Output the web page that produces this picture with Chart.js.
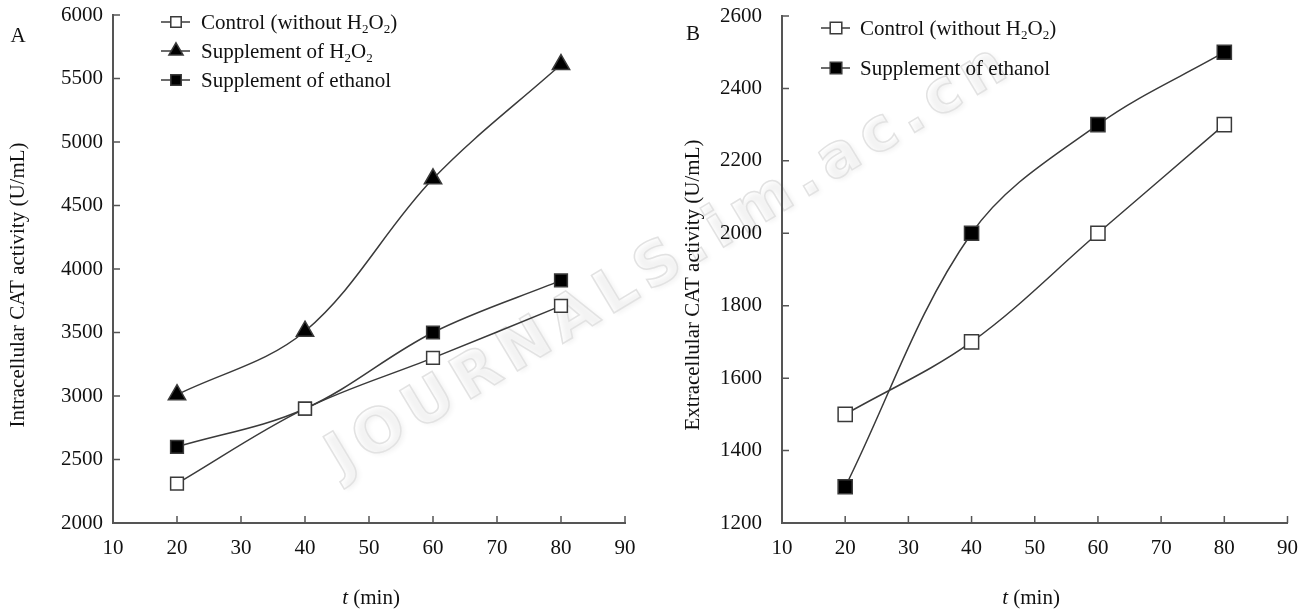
<!DOCTYPE html>
<html>
<head>
<meta charset="utf-8">
<title>CAT activity</title>
<script src="https://cdn.jsdelivr.net/npm/chart.js@4.4.1/dist/chart.umd.min.js"></script>
<style>
  html, body { margin: 0; padding: 0; background: #fff; overflow: hidden; }
  #wrap { position: relative; width: 1299px; height: 611px; background: #fff; }
  canvas { position: absolute; top: 0; }
  #chartA { left: 0; }
  #chartB { left: 650px; }
  .stamp {
    position: absolute; left: 668px; top: 256px;
    transform: translate(-50%, -50%) rotate(-31deg);
    font: bold 60px "DejaVu Sans", sans-serif; letter-spacing: 8px;
    color: rgba(255,255,255,0); -webkit-text-stroke: 1.5px #e2e2e2;
    text-shadow: 2px 3px 5px rgba(0,0,0,0.05);
    white-space: nowrap;
  }
</style>
</head>
<body>
<div id="wrap">
  <div class="stamp">JOURNALS.im.ac.cn</div>
  <canvas id="chartA" width="650" height="611"></canvas>
  <canvas id="chartB" width="649" height="611"></canvas>
</div>
<script>
// sampling times (min) and axis ticks
const times = [20, 40, 60, 80];
const timeTicks = [10, 20, 30, 40, 50, 60, 70, 80, 90];
const intraTicks = [2000, 2500, 3000, 3500, 4000, 4500, 5000, 5500, 6000];
const extraTicks = [1200, 1400, 1600, 1800, 2000, 2200, 2400, 2600];

// intracellular CAT activity (U/mL)
const intraControl = [2310, 2900, 3300, 3710];
const intraH2O2 = [3010, 3510, 4710, 5610];
const intraEthanol = [2600, 2900, 3500, 3910];

// extracellular CAT activity (U/mL)
const extraControl = [1500, 1700, 2000, 2300];
const extraEthanol = [1300, 2000, 2300, 2500];

const SERIF = '"Liberation Serif", "Times New Roman", serif';
const FS = 21;
const INK = '#111';
const LINE = '#3a3a3a';

Chart.defaults.font.family = SERIF;
Chart.defaults.font.size = FS;
Chart.defaults.color = INK;

function points(vals) {
  return times.map((t, i) => ({ x: t, y: vals[i] }));
}

function series(label, vals, style, fill, radius) {
  return {
    label: label,
    data: points(vals),
    borderColor: LINE,
    borderWidth: 1.5,
    tension: 0.35,
    pointStyle: style,
    pointRadius: radius,
    pointHoverRadius: radius,
    pointBackgroundColor: fill,
    pointBorderColor: LINE,
    pointBorderWidth: 1.5
  };
}

// text with "_2" style subscripts
function drawRich(ctx, text, x, y, size) {
  const parts = text.split(/(_\d)/);
  const base = y + size * 0.33;
  ctx.textAlign = 'left';
  ctx.textBaseline = 'alphabetic';
  parts.forEach(p => {
    if (!p) return;
    if (p[0] === '_') {
      ctx.font = (size * 0.62) + 'px ' + SERIF;
      ctx.fillText(p[1], x, base + size * 0.2);
      x += ctx.measureText(p[1]).width;
    } else {
      ctx.font = size + 'px ' + SERIF;
      ctx.fillText(p, x, base);
      x += ctx.measureText(p).width;
    }
  });
}

// inward tick marks on both axes
const innerTicks = {
  id: 'innerTicks',
  beforeDatasetsDraw(chart) {
    const ctx = chart.ctx;
    const a = chart.chartArea;
    const len = 7;
    ctx.save();
    ctx.strokeStyle = '#555';
    ctx.lineWidth = 1.5;
    ctx.beginPath();
    chart.scales.x.ticks.forEach(t => {
      const px = chart.scales.x.getPixelForValue(t.value);
      ctx.moveTo(px, a.bottom);
      ctx.lineTo(px, a.bottom - len);
    });
    chart.scales.y.ticks.forEach(t => {
      const py = chart.scales.y.getPixelForValue(t.value);
      ctx.moveTo(a.left, py);
      ctx.lineTo(a.left + len, py);
    });
    ctx.stroke();
    ctx.restore();
  }
};

// legend drawn inside the plot, with subscripts
const seriesKey = {
  id: 'seriesKey',
  afterDraw(chart, args, o) {
    const ctx = chart.ctx;
    chart.data.datasets.forEach((ds, i) => {
      const y = o.top + i * o.gap;
      ctx.save();
      ctx.strokeStyle = ds.borderColor;
      ctx.lineWidth = 1.5;
      ctx.beginPath();
      ctx.moveTo(o.x - 15, y);
      ctx.lineTo(o.x + 14, y);
      ctx.stroke();
      ctx.fillStyle = ds.pointBackgroundColor;
      ctx.strokeStyle = ds.pointBorderColor;
      ctx.lineWidth = ds.pointBorderWidth;
      Chart.helpers.drawPoint(ctx, {
        pointStyle: ds.pointStyle,
        radius: ds.pointRadius * 0.82,
        rotation: 0,
        borderWidth: ds.pointBorderWidth
      }, o.x, y);
      ctx.fillStyle = INK;
      drawRich(ctx, ds.label, o.textX, y, FS);
      ctx.restore();
    });
  }
};

// panel letter and axis titles (italic t)
const axisText = {
  id: 'axisText',
  afterDraw(chart, args, o) {
    const ctx = chart.ctx;
    ctx.save();
    ctx.fillStyle = INK;
    ctx.textBaseline = 'middle';
    ctx.textAlign = 'center';
    ctx.font = FS + 'px ' + SERIF;
    ctx.fillText(o.letter, o.letterX, o.letterY);

    ctx.save();
    ctx.translate(o.yTitleX, o.yTitleY);
    ctx.rotate(-Math.PI / 2);
    ctx.fillText(o.yTitle, 0, 0);
    ctx.restore();

    const it = 'italic ' + FS + 'px ' + SERIF;
    const up = FS + 'px ' + SERIF;
    ctx.font = it;
    const w1 = ctx.measureText('t').width;
    ctx.font = up;
    const w2 = ctx.measureText(' (min)').width;
    const x = o.xTitleX - (w1 + w2) / 2;
    ctx.textAlign = 'left';
    ctx.font = it;
    ctx.fillText('t', x, o.xTitleY);
    ctx.font = up;
    ctx.fillText(' (min)', x + w1, o.xTitleY);
    ctx.restore();
  }
};

function makeChart(id, datasets, yTicks, cfg) {
  return new Chart(document.getElementById(id), {
    type: 'line',
    data: { datasets: datasets },
    plugins: [innerTicks, seriesKey, axisText],
    options: {
      responsive: false,
      animation: false,
      events: [],
      layout: { padding: { top: cfg.top, right: cfg.right, left: 0, bottom: 0 } },
      scales: {
        x: {
          type: 'linear',
          min: timeTicks[0],
          max: timeTicks[timeTicks.length - 1],
          afterBuildTicks: s => { s.ticks = timeTicks.map(v => ({ value: v })); },
          afterFit: s => { s.height = 88; s.paddingLeft = 0; s.paddingRight = 11; },
          grid: { display: false, drawTicks: false },
          border: { display: true, color: '#555', width: 2 },
          ticks: { padding: 13, maxRotation: 0, autoSkip: false, color: INK, callback: v => String(v) }
        },
        y: {
          type: 'linear',
          min: yTicks[0],
          max: yTicks[yTicks.length - 1],
          afterBuildTicks: s => { s.ticks = yTicks.map(v => ({ value: v })); },
          afterFit: s => { s.width = cfg.yWidth; s.paddingTop = 0; s.paddingBottom = 0; },
          grid: { display: false, drawTicks: false },
          border: { display: true, color: '#555', width: 2 },
          ticks: { padding: cfg.tickPad, autoSkip: false, color: INK, callback: v => String(v) }
        }
      },
      plugins: {
        legend: { display: false },
        tooltip: { enabled: false },
        seriesKey: cfg.key,
        axisText: cfg.text
      }
    }
  });
}

makeChart('chartA', [
  series('Control (without H_2O_2)', intraControl, 'rect', '#fff', 9),
  series('Supplement of H_2O_2', intraH2O2, 'triangle', '#000', 10),
  series('Supplement of ethanol', intraEthanol, 'rect', '#000', 9)
], intraTicks, {
  top: 15, right: 25, yWidth: 113, tickPad: 10,
  key: { x: 176, textX: 201, top: 22, gap: 29 },
  text: {
    letter: 'A', letterX: 18, letterY: 36,
    yTitle: 'Intracellular CAT activity (U/mL)', yTitleX: 18, yTitleY: 285,
    xTitleX: 371, xTitleY: 598
  }
});

makeChart('chartB', [
  series('Control (without H_2O_2)', extraControl, 'rect', '#fff', 10),
  series('Supplement of ethanol', extraEthanol, 'rect', '#000', 10)
], extraTicks, {
  top: 16, right: 7, yWidth: 132, tickPad: 20,
  key: { x: 186, textX: 210, top: 28, gap: 40 },
  text: {
    letter: 'B', letterX: 43, letterY: 34,
    yTitle: 'Extracellular CAT activity (U/mL)', yTitleX: 43, yTitleY: 285,
    xTitleX: 381, xTitleY: 598
  }
});
</script>
</body>
</html>
